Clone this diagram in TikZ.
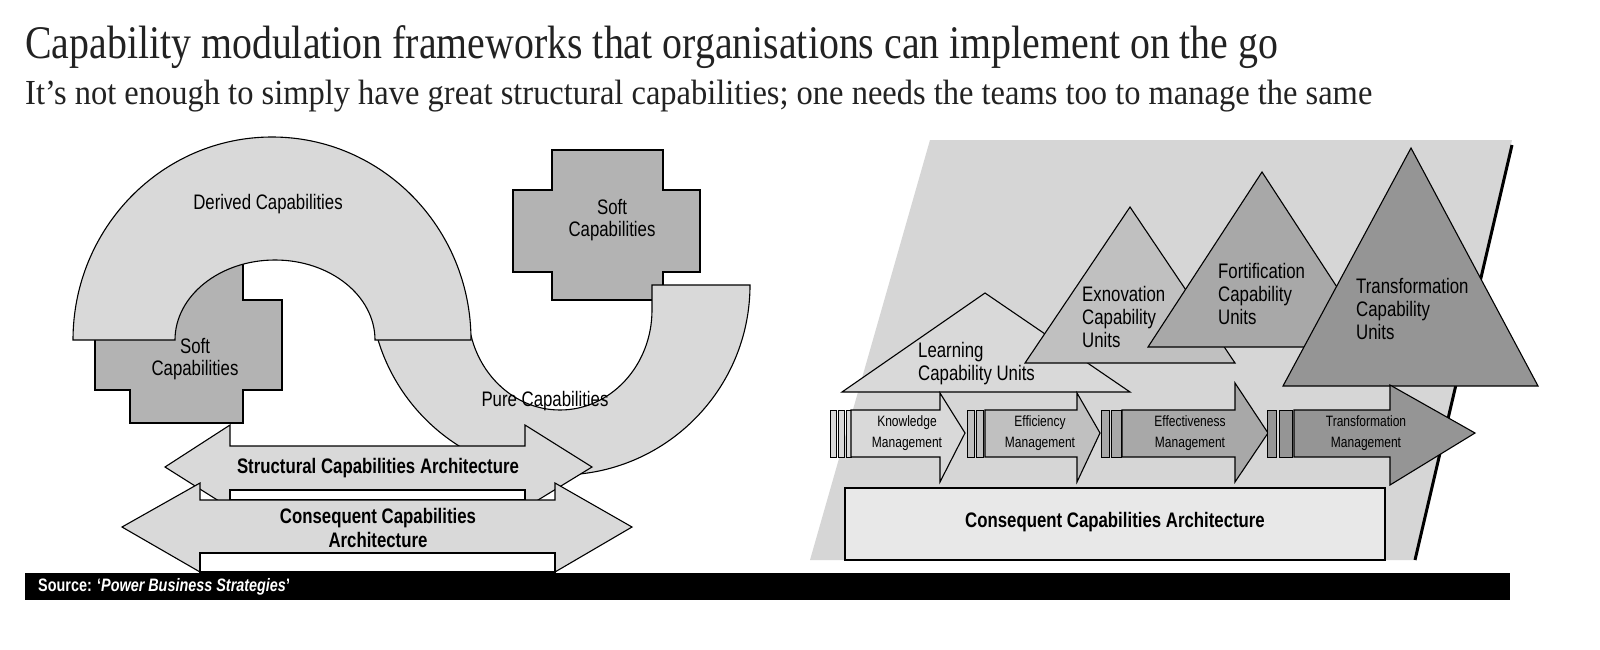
\documentclass[tikz,border=0pt]{standalone}
\usepackage{fontspec}
\usepackage{graphicx}
\setmainfont{Liberation Serif}
\newfontfamily\lab[FakeStretch=0.8]{Liberation Sans}
\newfontfamily\ttl[FakeStretch=0.8]{Liberation Serif}
\definecolor{archc}{HTML}{D9D9D9}
\definecolor{crossc}{HTML}{B3B3B3}
\definecolor{panel}{HTML}{D6D6D6}
\definecolor{tri1}{HTML}{D9D9D9}
\definecolor{tri2}{HTML}{C0C0C0}
\definecolor{tri3}{HTML}{A8A8A8}
\definecolor{tri4}{HTML}{959595}
\definecolor{titlec}{HTML}{222222}
\tikzset{
  shp/.style={draw=black,line width=1.1pt,line join=miter},
  lbl/.style={font=\lab\fontsize{21}{22}\selectfont,align=center,inner sep=0pt},
  lbll/.style={font=\lab\fontsize{21}{23}\selectfont,align=left,inner sep=0pt,anchor=west},
  blbl/.style={font=\lab\bfseries\fontsize{21}{24}\selectfont,align=center,inner sep=0pt},
  slbl/.style={font=\lab\fontsize{15}{21}\selectfont,align=center,inner sep=0pt},
}
\begin{document}
\begin{tikzpicture}[x=1pt,y=-1pt]
\useasboundingbox (0,0) rectangle (1600,650);
\fill[white] (0,0) rectangle (1600,650);
% titles
\node[anchor=north west,inner sep=0pt,text=titlec] (title) at (25,25)
  {\resizebox*{1253pt}{43pt}{\ttl\fontsize{40}{40}\selectfont Capability modulation frameworks that organisations can implement on the go}};
\node[anchor=north west,inner sep=0pt,text=titlec] (subtitle) at (25,80)
  {\resizebox*{1347pt}{32pt}{\ttl\fontsize{30}{30}\selectfont It’s not enough to simply have great structural capabilities; one needs the teams too to manage the same}};
% ---------- left diagram ----------
\draw[shp,fill=crossc] (552,150)--(663,150)--(663,190)--(700,190)--(700,272)--(663,272)--(663,300)--(552,300)--(552,272)--(513,272)--(513,190)--(552,190)--cycle;
\draw[shp,fill=crossc] (130,262)--(243,262)--(243,300)--(282,300)--(282,390)--(243,390)--(243,423)--(130,423)--(130,390)--(95,390)--(95,300)--(130,300)--cycle;
% pure arch
\draw[shp,fill=archc] (375,332)--(370,285) arc[start angle=180,end angle=0,x radius=190,y radius=190] -- (652,285) -- (652,310) arc[start angle=0,end angle=180,x radius=92,y radius=100] -- (466,332) -- cycle;
% derived arch
\draw[shp,fill=archc] (73,340) arc[start angle=180,end angle=360,x radius=199,y radius=203] -- (375,340) arc[start angle=0,end angle=-180,x radius=100,y radius=80] -- cycle;
\node[lbl] (derived) at (268,204) {Derived Capabilities};
\node[lbl] (pure) at (545,401) {Pure Capabilities};
\node[lbl] (soft2) at (612,220) {Soft\\Capabilities};
\node[lbl] (soft1) at (195,359) {Soft\\Capabilities};
% structural arrow
\draw[shp,fill=archc] (165,467)--(230,425)--(230,446)--(525,446)--(525,425)--(592,467)--(525,508)--(525,490)--(230,490)--(230,508)--cycle;
\draw[shp,fill=white] (230,490) rectangle (525,500);
\node[blbl] (struct) at (378,468) {Structural Capabilities Architecture};
% consequent arrow
\draw[shp,fill=archc] (122,527)--(200,483)--(200,500)--(555,500)--(555,483)--(632,527)--(555,572)--(555,553)--(200,553)--(200,572)--cycle;
\draw[shp,fill=white] (200,553) rectangle (555,572);
\node[blbl] (cons1) at (378,528) {Consequent Capabilities\\Architecture};
% ---------- right diagram ----------
\fill[panel] (930,140)--(1512,140)--(1415,560)--(810,560)--cycle;
\draw[line width=3pt] (1512,145)--(1415,560);
% triangles
\draw[shp,fill=tri1] (985,293)--(1130,392)--(842,392)--cycle;
\draw[shp,fill=tri2] (1130,207)--(1235,363)--(1025,363)--cycle;
\draw[shp,fill=tri3] (1262,172)--(1376,347)--(1148,347)--cycle;
\draw[shp,fill=tri4] (1411,148)--(1538,386)--(1283,386)--cycle;
\node[lbll] (learn) at (918,364) {Learning\\Capability Units};
\node[lbll] (exno) at (1082,317) {Exnovation\\Capability\\Units};
\node[lbll] (fort) at (1218,294) {Fortification\\Capability\\Units};
\node[lbll] (trans) at (1356,309) {Transformation\\Capability\\Units};
% arrows row
\foreach \a/\b in {830/836,838/844,846/851} \draw[shp,line width=0.8pt,fill=tri1] (\a,410) rectangle (\b,457);
\draw[shp,fill=tri1] (851,410)--(940,410)--(940,393)--(965,433)--(940,482)--(940,457)--(851,457)--cycle;
\foreach \a/\b in {967/974,976/983} \draw[shp,line width=0.8pt,fill=tri2] (\a,410) rectangle (\b,457);
\draw[shp,fill=tri2] (985,410)--(1077,410)--(1077,393)--(1100,433)--(1077,482)--(1077,457)--(985,457)--cycle;
\foreach \a/\b in {1101/1109,1111/1121} \draw[shp,line width=0.8pt,fill=tri3] (\a,410) rectangle (\b,457);
\draw[shp,fill=tri3] (1122,410)--(1235,410)--(1235,383)--(1268,433)--(1235,482)--(1235,457)--(1122,457)--cycle;
\foreach \a/\b in {1267/1276,1279/1292} \draw[shp,line width=0.8pt,fill=tri4] (\a,410) rectangle (\b,457);
\draw[shp,fill=tri4] (1294,410)--(1390,410)--(1390,385)--(1475,433)--(1390,485)--(1390,457)--(1294,457)--cycle;
\node[slbl] (km) at (907,433) {Knowledge\\Management};
\node[slbl] (em) at (1040,433) {Efficiency\\Management};
\node[slbl] (efm) at (1190,433) {Effectiveness\\Management};
\node[slbl] (tm) at (1366,433) {Transformation\\Management};
% consequent box
\draw[shp,fill=archc!60!white] (845,488) rectangle (1385,560);
\node[blbl] (cons2) at (1115,522) {Consequent Capabilities Architecture};
% source bar
\fill[black] (25,573) rectangle (1510,600);
\node[anchor=west,inner sep=0pt,text=white,font=\lab\bfseries\fontsize{18}{18}\selectfont] (src) at (38,587) {Source: ‘\textit{Power Business Strategies}’};
\end{tikzpicture}
\end{document}
